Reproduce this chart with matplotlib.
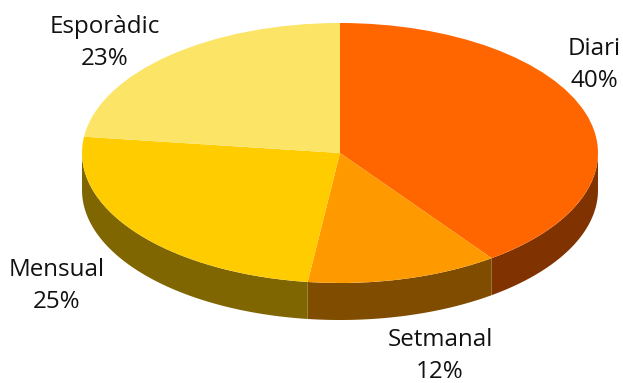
import numpy as np
import matplotlib
matplotlib.use("Agg")
import matplotlib.pyplot as plt

# Dades
categories = ["Diari", "Setmanal", "Mensual", "Esporàdic"]
values = [40, 12, 25, 23]
top_colors = ["#FF6600", "#FF9900", "#FFCC00", "#FBE466"]
side_colors = ["#803300", "#804D00", "#806600", "#807333"]

W, H = 623, 383
CX, CY = 340, 153   # centre in pixels
RX, RY = 258, 130   # ellipse radii in pixels
DEPTH = 37 / RY     # wall height in y units

fig = plt.figure(figsize=(W / 100, H / 100), dpi=100)
ax = fig.add_axes([0, 0, 1, 1])

# Side walls first, only the front half of the ellipse is visible
edges = 90 - np.cumsum([0] + values) * 3.6
for i in range(len(values)):
    a0, a1 = edges[i + 1], edges[i]
    # bring the angles into the 180..360 range
    a0, a1 = (a0 % 360, a0 % 360 + (a1 - a0))
    lo, hi = max(a0, 180), min(a1, 360)
    if hi <= lo:
        continue
    t = np.radians(np.linspace(lo, hi, 80))
    xs = np.concatenate([np.cos(t), np.cos(t[::-1])])
    ys = np.concatenate([np.sin(t), np.sin(t[::-1]) - DEPTH])
    ax.fill(xs, ys, color=side_colors[i], lw=0)

ax.pie(values, colors=top_colors, startangle=90, counterclock=False,
       radius=1, center=(0, 0), wedgeprops={"linewidth": 0}, frame=True)

ax.set_aspect("auto")
ax.set_xlim(-CX / RX, (W - CX) / RX)
ax.set_ylim(-(H - CY) / RY, CY / RY)
ax.axis("off")

# Etiquetes
def px(x, y):
    return (x - CX) / RX, (CY - y) / RY

label_pos = [(594, 65), (440, 356), (57, 286), (105, 43)]
for name, val, (x, y) in zip(categories, values, label_pos):
    lx, ly = px(x, y)
    ax.text(lx, ly, f"{name}\n{val}%", ha="center", va="center", fontsize=17.4,
            family="Open Sans", color="#111111", linespacing=1.47)

fig.savefig("out.png", dpi=100)
